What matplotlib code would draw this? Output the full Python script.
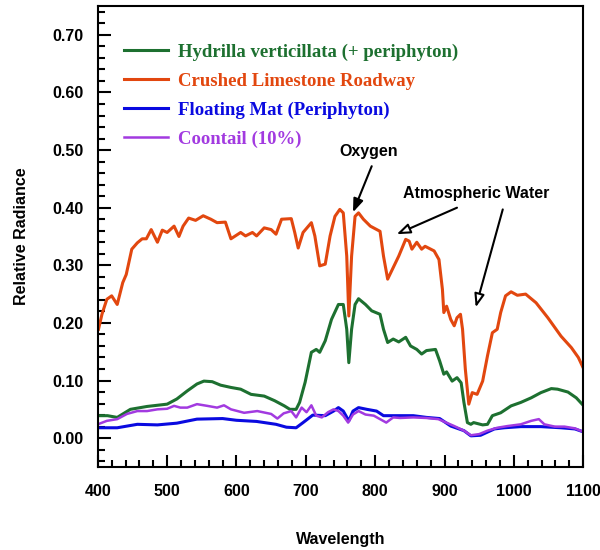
import matplotlib
matplotlib.use("Agg")
import matplotlib.pyplot as plt
from matplotlib.ticker import MultipleLocator

# Spectral radiance curves (wavelength in nm, relative radiance)
limestone_wl = [401, 406, 413, 420, 428, 436, 441, 449, 457, 464, 470, 477, 486, 493, 500,
                510, 517, 523, 531, 541, 552, 563, 572, 584, 592, 606, 613, 623, 629, 640,
                650, 657, 665, 679, 684, 689, 696, 708, 713, 720, 728, 735, 742, 749, 754,
                759, 762, 766, 771, 776, 783, 793, 807, 812, 818, 826, 834, 844, 849, 853,
                860, 867, 872, 885, 892, 897, 899, 903, 909, 914, 918, 923, 926, 930, 935,
                940, 947, 955, 962, 969, 976, 981, 988, 996, 1005, 1017, 1032, 1049, 1068,
                1083, 1093, 1100]
limestone = [0.189, 0.215, 0.241, 0.247, 0.232, 0.270, 0.284, 0.328, 0.339, 0.346, 0.346,
             0.362, 0.340, 0.361, 0.357, 0.368, 0.350, 0.368, 0.382, 0.378, 0.386, 0.380,
             0.374, 0.375, 0.346, 0.357, 0.351, 0.357, 0.351, 0.365, 0.362, 0.354, 0.380,
             0.381, 0.357, 0.330, 0.357, 0.374, 0.351, 0.299, 0.302, 0.351, 0.385, 0.397,
             0.391, 0.316, 0.212, 0.316, 0.385, 0.391, 0.380, 0.368, 0.359, 0.316, 0.276,
             0.296, 0.316, 0.345, 0.342, 0.328, 0.340, 0.328, 0.333, 0.325, 0.310, 0.258,
             0.218, 0.229, 0.206, 0.195, 0.209, 0.215, 0.189, 0.120, 0.059, 0.079, 0.076,
             0.099, 0.143, 0.183, 0.189, 0.218, 0.247, 0.254, 0.248, 0.250, 0.235, 0.209,
             0.177, 0.157, 0.140, 0.122]

hydrilla_wl = [400, 414, 428, 447, 471, 500, 514, 529, 543, 553, 565, 577, 592, 606, 621,
               640, 655, 669, 677, 686, 691, 699, 708, 715, 720, 728, 737, 747, 754, 759,
               762, 766, 771, 776, 786, 795, 807, 812, 818, 826, 834, 844, 851, 860, 867,
               874, 887, 893, 899, 903, 911, 918, 924, 928, 933, 938, 942, 955, 962, 969,
               981, 996, 1010, 1025, 1039, 1054, 1063, 1078, 1090, 1100]
hydrilla = [0.039, 0.039, 0.036, 0.050, 0.055, 0.059, 0.068, 0.082, 0.094, 0.099, 0.098,
            0.092, 0.088, 0.085, 0.076, 0.073, 0.065, 0.056, 0.050, 0.050, 0.062, 0.097,
            0.149, 0.154, 0.149, 0.169, 0.206, 0.232, 0.232, 0.189, 0.131, 0.189, 0.232,
            0.242, 0.232, 0.221, 0.215, 0.189, 0.166, 0.172, 0.167, 0.175, 0.160, 0.154,
            0.146, 0.152, 0.154, 0.134, 0.111, 0.115, 0.099, 0.105, 0.096, 0.062, 0.027,
            0.024, 0.027, 0.023, 0.024, 0.039, 0.044, 0.056, 0.062, 0.070, 0.079, 0.086,
            0.085, 0.080, 0.070, 0.057]

mat_wl = [400, 428, 457, 486, 514, 543, 580, 600, 629, 657, 672, 686, 696, 710, 728, 740,
          747, 754, 762, 768, 776, 788, 802, 812, 831, 855, 874, 893, 909, 928, 938, 952,
          972, 986, 1010, 1039, 1068, 1088, 1100]
mat = [0.018, 0.018, 0.024, 0.023, 0.026, 0.033, 0.034, 0.031, 0.029, 0.024, 0.019, 0.018,
       0.027, 0.040, 0.039, 0.047, 0.053, 0.047, 0.030, 0.047, 0.053, 0.050, 0.047, 0.039,
       0.039, 0.039, 0.036, 0.034, 0.021, 0.013, 0.004, 0.005, 0.016, 0.018, 0.020, 0.020,
       0.018, 0.016, 0.011]

coontail_wl = [400, 413, 428, 442, 457, 471, 486, 500, 510, 519, 529, 543, 558, 572, 582,
               592, 611, 630, 650, 659, 668, 679, 686, 694, 701, 708, 715, 723, 732, 740,
               747, 754, 761, 768, 776, 786, 798, 807, 816, 826, 836, 855, 874, 891, 914,
               928, 938, 950, 962, 976, 991, 1010, 1025, 1036, 1044, 1059, 1073, 1088, 1100]
coontail = [0.024, 0.030, 0.033, 0.042, 0.047, 0.047, 0.050, 0.051, 0.056, 0.053, 0.053,
            0.059, 0.056, 0.053, 0.057, 0.050, 0.044, 0.047, 0.042, 0.034, 0.043, 0.047,
            0.036, 0.053, 0.045, 0.057, 0.039, 0.036, 0.045, 0.050, 0.047, 0.039, 0.027,
            0.041, 0.047, 0.041, 0.039, 0.033, 0.027, 0.036, 0.035, 0.036, 0.035, 0.033,
            0.021, 0.013, 0.005, 0.007, 0.013, 0.018, 0.021, 0.024, 0.030, 0.033, 0.024,
            0.020, 0.020, 0.017, 0.011]

labels = ["Hydrilla verticillata (+ periphyton)", "Crushed Limestone Roadway",
          "Floating Mat (Periphyton)", "Coontail (10%)"]
colors = ["#1d7030", "#e2470f", "#0a0ae0", "#a23ae0"]

x_ticks = [400, 500, 600, 700, 800, 900, 1000, 1100]
y_ticks = [0.0, 0.1, 0.2, 0.3, 0.4, 0.5, 0.6, 0.7]

fig = plt.figure(figsize=(6.0, 5.5), dpi=100)
ax = fig.add_axes([0.163, 0.151, 0.809, 0.838])

series = [(hydrilla_wl, hydrilla), (limestone_wl, limestone), (mat_wl, mat), (coontail_wl, coontail)]
widths = [2.2, 2.2, 2.2, 1.8]
handles = []
for (wl, vals), lab, col, lw in zip(series, labels, colors, widths):
    h, = ax.plot(wl, vals, color=col, lw=lw, label=lab, solid_joinstyle="round")
    handles.append(h)

ax.set_xlim(400, 1100)
ax.set_ylim(-0.05, 0.75)
ax.set_xticks(x_ticks)
ax.set_yticks(y_ticks)
ax.set_yticklabels([f"{v:.2f}" for v in y_ticks])
ax.xaxis.set_minor_locator(MultipleLocator(20))
ax.yaxis.set_minor_locator(MultipleLocator(0.02))
ax.tick_params(which="both", direction="in", top=False, right=False, width=1.5)
ax.tick_params(which="major", length=9)
ax.tick_params(which="minor", length=5)
ax.tick_params(axis="x", which="major", pad=12)
ax.tick_params(axis="y", which="major", pad=10)
for lab in ax.get_xticklabels() + ax.get_yticklabels():
    lab.set_fontfamily("Liberation Sans")
    lab.set_fontweight("bold")
    lab.set_fontsize(11.5)
for sp in ax.spines.values():
    sp.set_linewidth(1.5)

ax.set_xlabel("Wavelength", fontfamily="Liberation Sans", fontweight="bold",
              fontsize=11.5, labelpad=24)
ax.set_ylabel("Relative Radiance", fontfamily="Liberation Sans", fontweight="bold",
              fontsize=11.5, labelpad=17)

leg = ax.legend(handles=handles, loc="upper left", bbox_to_anchor=(0.02, 0.955),
                frameon=False, handlelength=2.3, handletextpad=0.55, labelspacing=0.62,
                prop={"family": "Liberation Serif", "weight": "bold", "size": 13.5})
for txt, col in zip(leg.get_texts(), colors):
    txt.set_color(col)

# Absorption feature callouts
txt_font = dict(fontfamily="Liberation Sans", fontweight="bold", fontsize=11.5,
                ha="center", va="center")
ax.text(791, 0.497, "Oxygen", **txt_font)
ax.annotate("", xy=(768, 0.392), xytext=(795, 0.472),
            arrowprops=dict(arrowstyle="-|>,head_length=0.8,head_width=0.3",
                            color="black", lw=1.5, shrinkA=0, shrinkB=0))
ax.text(946, 0.425, "Atmospheric Water", **txt_font)
for tip, tail in [((831, 0.354), (918, 0.400)), ((945, 0.227), (984, 0.397))]:
    ax.annotate("", xy=tip, xytext=tail,
                arrowprops=dict(arrowstyle="-|>,head_length=0.8,head_width=0.3",
                                fc="white", ec="black", lw=1.5, shrinkA=0, shrinkB=0))

fig.savefig("out.png", dpi=100)
